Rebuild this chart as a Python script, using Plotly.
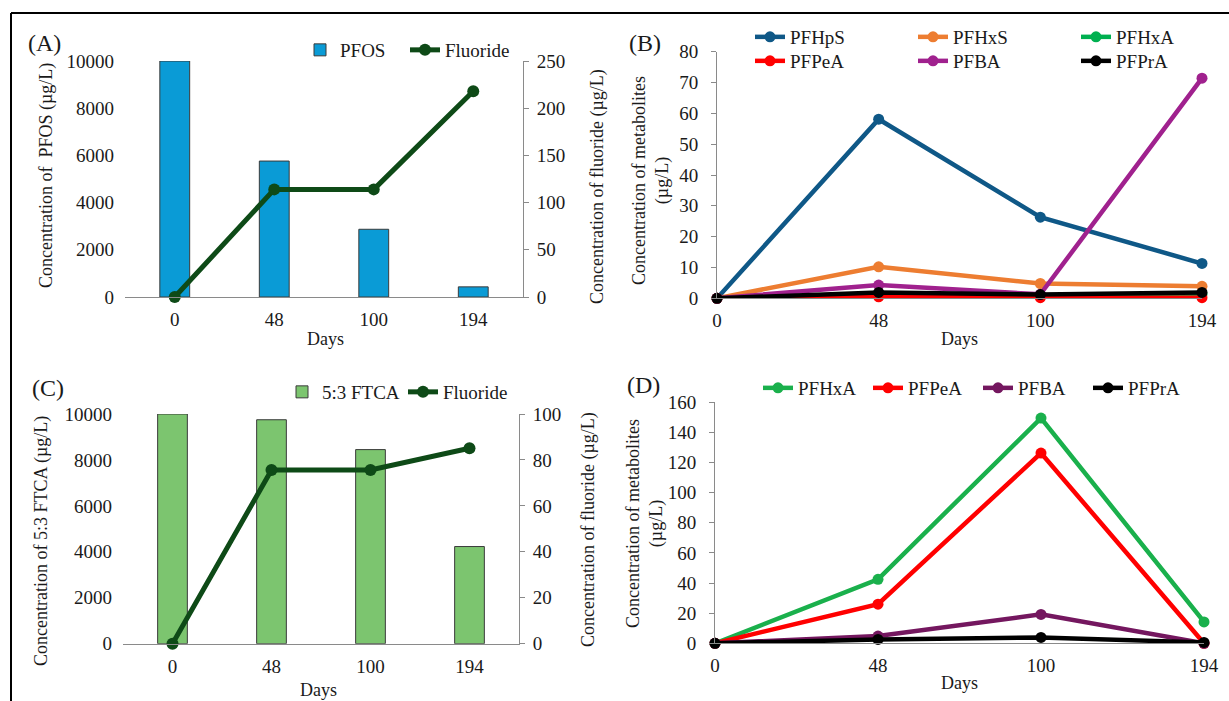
import plotly.graph_objects as go

# ---------------- data ----------------
days = ["0", "48", "100", "194"]

# Panel A
pfos = [10000, 5760, 2870, 430]
fluoride_a = [0, 114, 114, 218]

# Panel B
b_pfhps = [0, 58.1, 26.3, 11.3]
b_pfhxs = [0, 10.2, 4.8, 3.9]
b_pfhxa = [0, 0.7, 0.9, 1.4]
b_pfpea = [0, 0.5, 0.2, 0.2]
b_pfba = [0, 4.3, 1.3, 71.4]
b_pfpra = [0, 1.9, 1.2, 1.9]

# Panel C
ftca = [10000, 9750, 8450, 4230]
fluoride_c = [0, 75.6, 75.6, 85.1]

# Panel D
d_pfhxa = [0, 42.5, 149.5, 14.2]
d_pfpea = [0, 26.0, 126.3, 0]
d_pfba = [0, 4.8, 19.2, 0]
d_pfpra = [0, 2.6, 3.9, 0.6]

W, H = 1229, 701
FONT = "Liberation Serif, Times New Roman, serif"
TXT = "#1a1a1a"
AX = "#8a8a8a"
FS = 19
TFS = 18


def px(x):
    return x / W


def py(y):
    return 1 - y / H


fig = go.Figure()

# ---------- Panel A ----------
fig.add_trace(go.Bar(x=days, y=pfos, name="PFOS", width=0.3,
                     marker=dict(color="#0A9BD6", line=dict(color="#3a3a3a", width=1)),
                     xaxis="x", yaxis="y", legend="legend"))
fig.add_trace(go.Scatter(x=days, y=fluoride_a, name="Fluoride", mode="lines+markers",
                         line=dict(color="#0E4A17", width=5), marker=dict(size=12, color="#0E4A17"),
                         xaxis="x", yaxis="y2", legend="legend", cliponaxis=False))

# ---------- Panel B ----------
b_series = [
    ("PFHpS", b_pfhps, "#0F5887", "legend2"),
    ("PFHxS", b_pfhxs, "#ED7D31", "legend2"),
    ("PFHxA", b_pfhxa, "#00B050", "legend2"),
    ("PFPeA", b_pfpea, "#FF0000", "legend3"),
    ("PFBA", b_pfba, "#A0218E", "legend3"),
    ("PFPrA", b_pfpra, "#000000", "legend3"),
]
for name, vals, col, lg in b_series:
    fig.add_trace(go.Scatter(x=days, y=vals, name=name, mode="lines+markers",
                             line=dict(color=col, width=4.5), marker=dict(size=11, color=col),
                             xaxis="x2", yaxis="y3", legend=lg, cliponaxis=False))

# ---------- Panel C ----------
fig.add_trace(go.Bar(x=days, y=ftca, name="5:3 FTCA", width=0.3,
                     marker=dict(color="#7CC56F", line=dict(color="#3a3a3a", width=1)),
                     xaxis="x3", yaxis="y4", legend="legend4"))
fig.add_trace(go.Scatter(x=days, y=fluoride_c, name="Fluoride", mode="lines+markers",
                         line=dict(color="#0E4A17", width=5), marker=dict(size=12, color="#0E4A17"),
                         xaxis="x3", yaxis="y5", legend="legend4", cliponaxis=False))

# ---------- Panel D ----------
d_series = [
    ("PFHxA", d_pfhxa, "#1AB04C"),
    ("PFPeA", d_pfpea, "#FF0000"),
    ("PFBA", d_pfba, "#74175F"),
    ("PFPrA", d_pfpra, "#000000"),
]
for name, vals, col in d_series:
    fig.add_trace(go.Scatter(x=days, y=vals, name=name, mode="lines+markers",
                             line=dict(color=col, width=4.5), marker=dict(size=11, color=col),
                             xaxis="x4", yaxis="y6", legend="legend5", cliponaxis=False))

tickfont = dict(family=FONT, size=FS, color=TXT)

bar_x = dict(type="category", range=[-0.5, 3.5], showline=True, linecolor=AX, linewidth=1,
             ticks="", showgrid=False, zeroline=False, tickfont=tickfont, ticklabelstandoff=5)
line_x = dict(type="category", range=[0, 3], showline=True, linecolor=AX, linewidth=1,
              ticks="", showgrid=False, zeroline=False, tickfont=tickfont, ticklabelstandoff=5)
left_y = dict(showline=False, ticks="", showgrid=False, zeroline=False, tickfont=tickfont,
              ticklabelstandoff=10, tickformat="d")
right_y = dict(showline=True, linecolor=AX, linewidth=1, ticks="outside", ticklen=5, tickcolor=AX,
               showgrid=False, zeroline=False, tickfont=tickfont, side="right", ticklabelstandoff=4,
               tickformat="d")
met_y = dict(showline=True, linecolor=AX, linewidth=1, ticks="outside", ticklen=5, tickcolor=AX,
             showgrid=False, zeroline=False, tickfont=tickfont, ticklabelstandoff=9, tickformat="d")

fig.update_layout(
    width=W, height=H,
    margin=dict(l=0, r=0, t=0, b=0, autoexpand=False),
    paper_bgcolor="white", plot_bgcolor="rgba(0,0,0,0)",
    font=dict(family=FONT, size=FS, color=TXT),
    barmode="overlay",
    xaxis=dict(bar_x, domain=[px(125), px(523)], anchor="y"),
    yaxis=dict(left_y, domain=[py(297), py(61)], range=[0, 10000], dtick=2000, anchor="x"),
    yaxis2=dict(right_y, overlaying="y", range=[0, 250], dtick=50, anchor="x"),
    xaxis2=dict(line_x, domain=[px(717), px(1202)], anchor="y3"),
    yaxis3=dict(met_y, domain=[py(298.3), py(51.7)], range=[0, 80], dtick=10, anchor="x2"),
    xaxis3=dict(bar_x, domain=[px(123), px(519)], anchor="y4"),
    yaxis4=dict(left_y, domain=[py(643.7), py(414)], range=[0, 10000], dtick=2000, anchor="x3"),
    yaxis5=dict(right_y, overlaying="y4", range=[0, 100], dtick=20, anchor="x3"),
    xaxis4=dict(line_x, domain=[px(715), px(1204)], anchor="y6"),
    yaxis6=dict(met_y, domain=[py(643.3), py(402.3)], range=[0, 160], dtick=20, anchor="x4"),
)

legfont = dict(family=FONT, size=FS, color=TXT)
common_leg = dict(orientation="h", xanchor="left", yanchor="middle", bgcolor="rgba(0,0,0,0)",
                  font=legfont, itemclick=False, itemdoubleclick=False, traceorder="normal",
                  entrywidthmode="pixels")
fig.update_layout(
    legend=dict(common_leg, x=px(300), y=py(50), entrywidth=60),
    legend2=dict(common_leg, x=px(750), y=py(37), entrywidth=118),
    legend3=dict(common_leg, x=px(750), y=py(61), entrywidth=118),
    legend4=dict(common_leg, x=px(282), y=py(392), entrywidth=76),
    legend5=dict(common_leg, x=px(758), y=py(388), entrywidth=65),
)

ann = []


def add_text(x, y, text, size=TFS, angle=0):
    ann.append(dict(x=px(x), y=py(y), xref="paper", yref="paper", text=text, showarrow=False,
                    textangle=angle, xanchor="center", yanchor="middle",
                    font=dict(family=FONT, size=size, color=TXT)))


# panel labels
add_text(44, 43, "(A)", 24)
add_text(645, 43, "(B)", 24)
add_text(48, 388, "(C)", 24)
add_text(643, 385, "(D)", 24)
# axis titles
add_text(47, 176, "Concentration of  PFOS (µg/L)", TFS, -90)
add_text(598, 187, "Concentration of fluoride (µg/L)", TFS, -90)
add_text(651, 180, "Concentration of metabolites<br>(µg/L)", TFS, -90)
add_text(41, 541, "Concentration of 5:3 FTCA (µg/L)", TFS, -90)
add_text(588, 530, "Concentration of fluoride (µg/L)", TFS, -90)
add_text(645, 524, "Concentration of metabolites<br>(µg/L)", TFS, -90)
add_text(325, 339, "Days")
add_text(959, 339, "Days")
add_text(318, 690, "Days")
add_text(959, 683, "Days")

fig.update_layout(annotations=ann)

# frame lines (top and left)
fig.update_layout(shapes=[
    dict(type="line", xref="paper", yref="paper", x0=px(11), x1=1, y0=py(13), y1=py(13),
         line=dict(color="black", width=2)),
    dict(type="line", xref="paper", yref="paper", x0=px(11), x1=px(11), y0=0, y1=py(13),
         line=dict(color="black", width=2)),
])

fig.write_html("out.html", config={"displayModeBar": False},
               post_script="document.body.style.margin='0';document.body.style.overflow='hidden';")
